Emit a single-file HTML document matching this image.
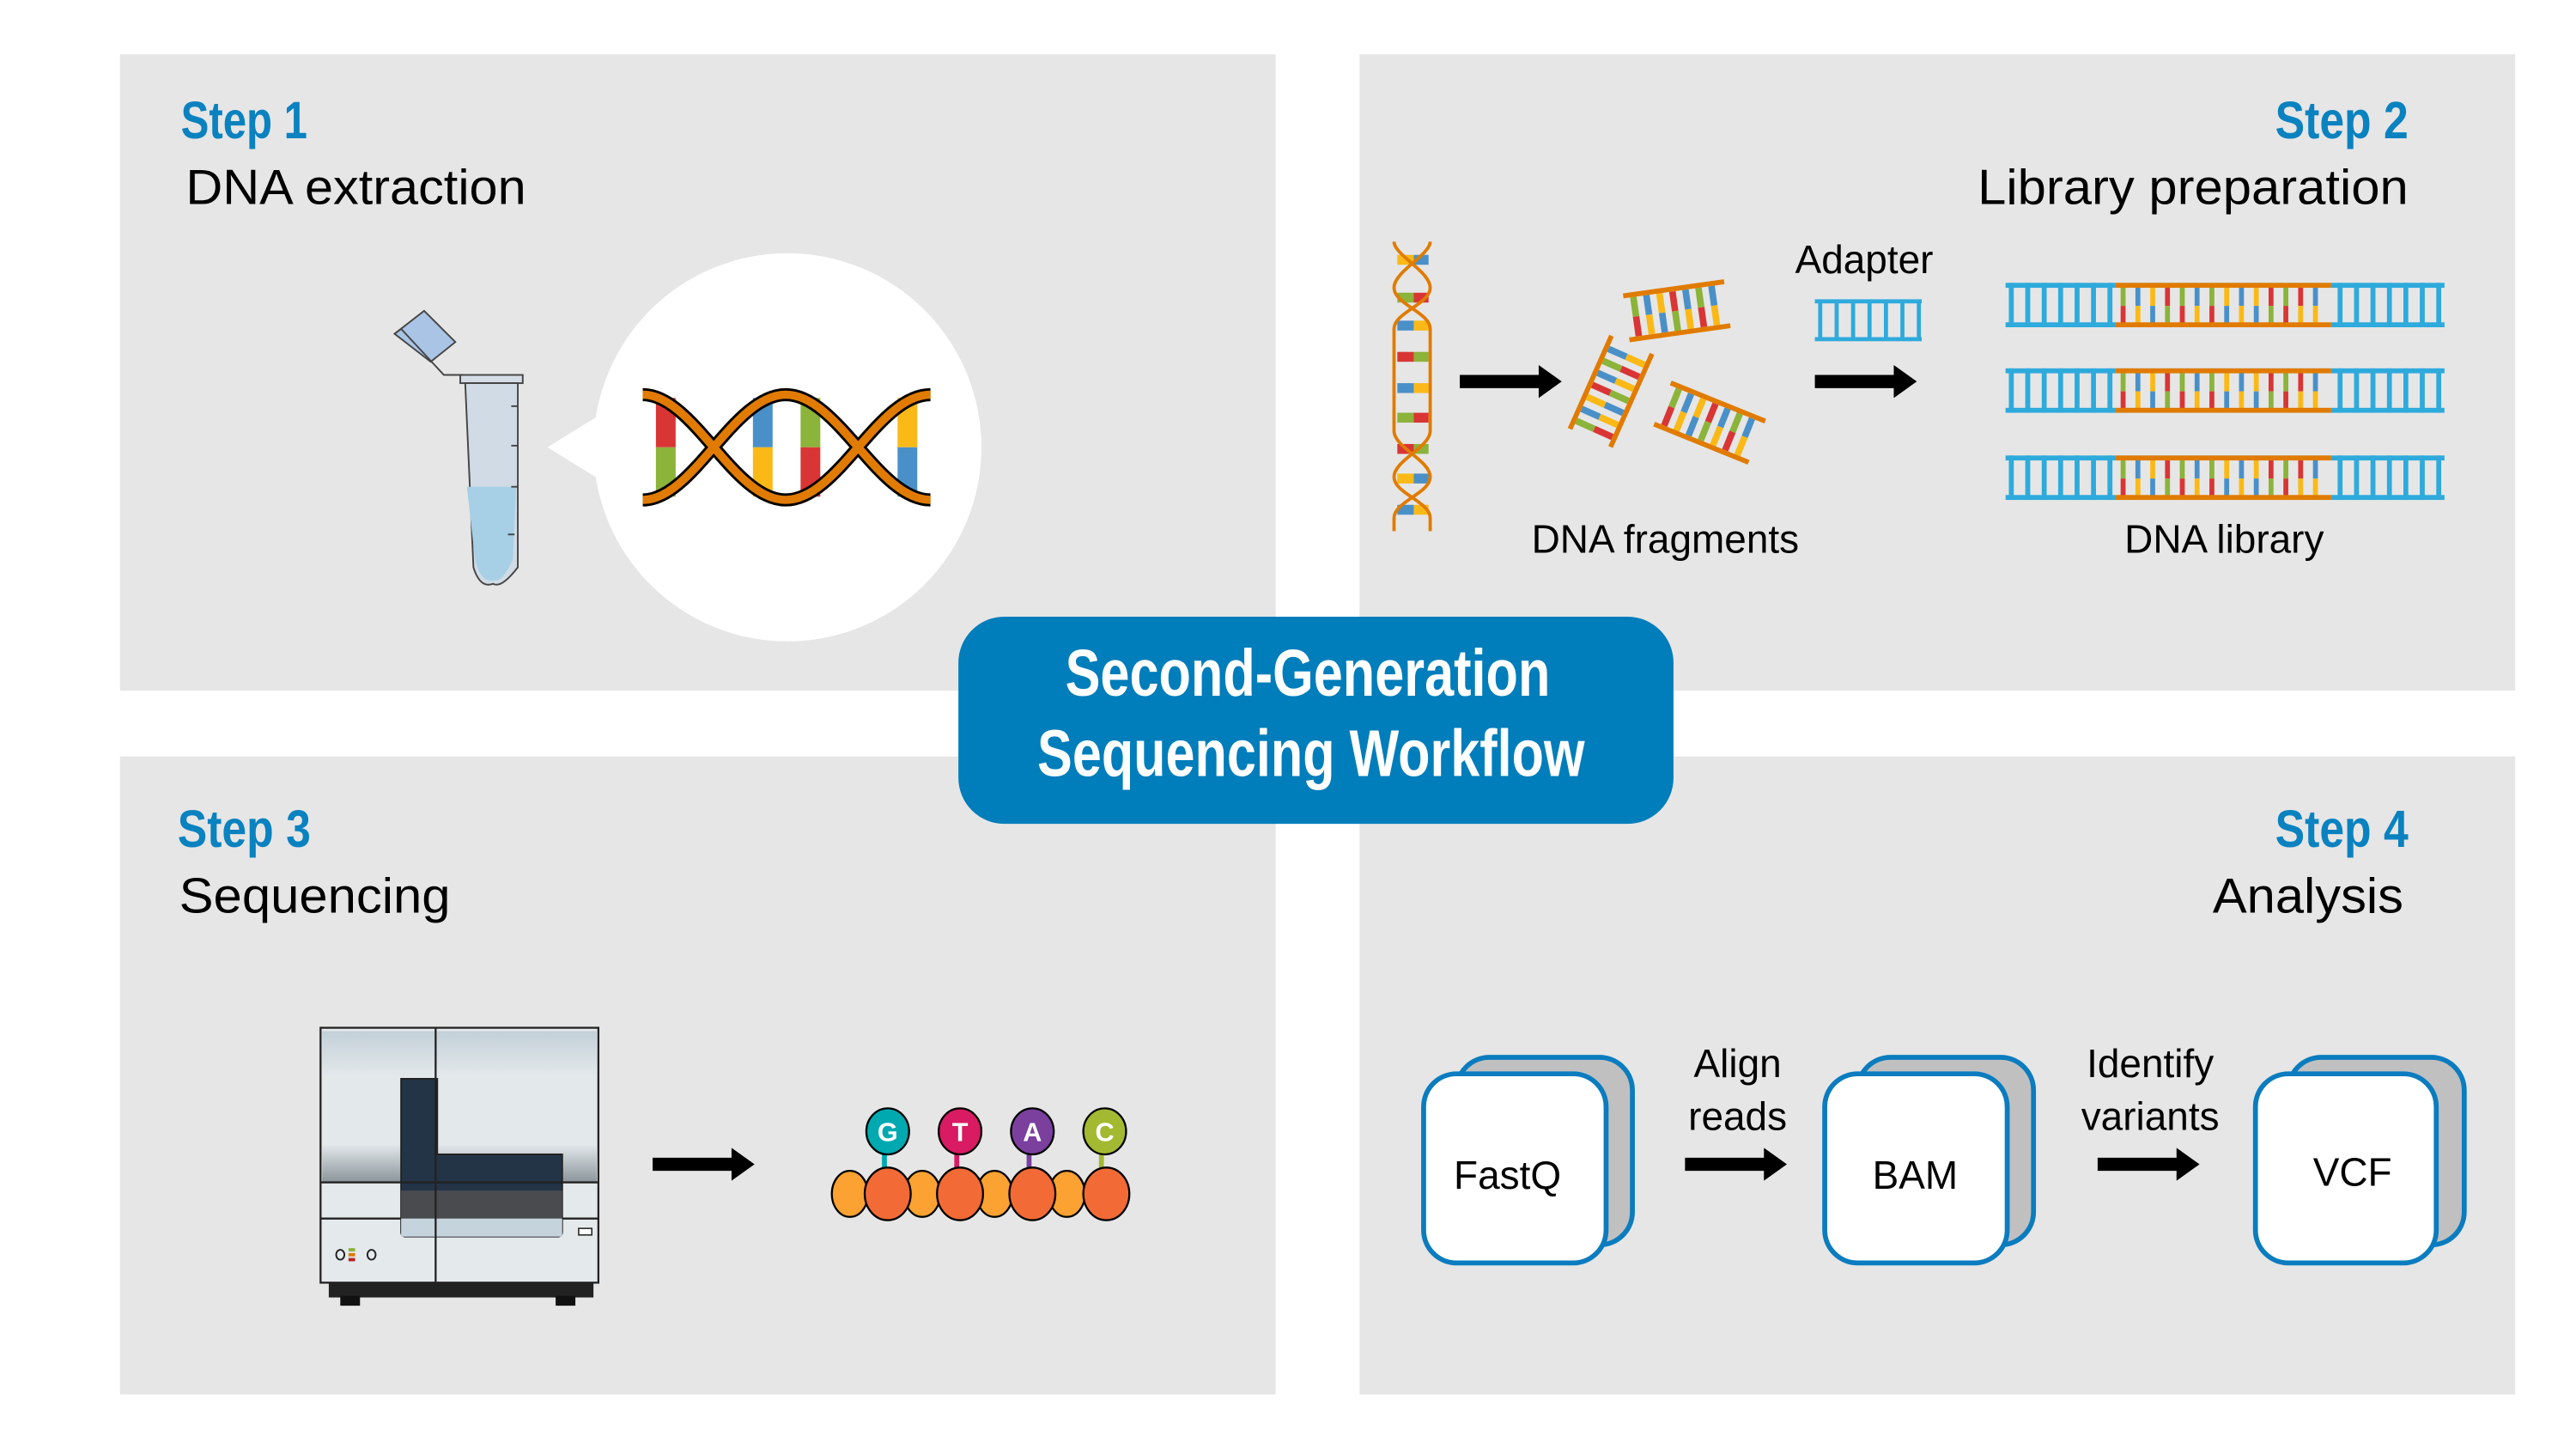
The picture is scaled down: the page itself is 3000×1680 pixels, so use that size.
<!DOCTYPE html>
<html><head><meta charset="utf-8"><style>
html,body{margin:0;padding:0;background:#fff;}
svg{display:block;}
.t{font-family:"Liberation Sans",sans-serif;fill:#000;}
.s{font-family:"Liberation Sans Narrow","Liberation Sans",sans-serif;font-weight:bold;fill:#0a82c0;}
</style></head><body>
<svg width="3000" height="1680" viewBox="0 0 1567 877.5" preserveAspectRatio="none" xmlns="http://www.w3.org/2000/svg">
<defs>
<g id="lad">
 <rect x="-27" y="-12" width="4" height="12" fill="#8cb33a"/><rect x="-27" y="0" width="4" height="12" fill="#d93535"/>
 <rect x="-19" y="-12" width="4" height="12" fill="#4a90c8"/><rect x="-19" y="0" width="4" height="12" fill="#fbb917"/>
 <rect x="-11" y="-12" width="4" height="12" fill="#fbb917"/><rect x="-11" y="0" width="4" height="12" fill="#4a90c8"/>
 <rect x="-3" y="-12" width="4" height="12" fill="#d93535"/><rect x="-3" y="0" width="4" height="12" fill="#8cb33a"/>
 <rect x="5" y="-12" width="4" height="12" fill="#4a90c8"/><rect x="5" y="0" width="4" height="12" fill="#fbb917"/>
 <rect x="13" y="-12" width="4" height="12" fill="#8cb33a"/><rect x="13" y="0" width="4" height="12" fill="#d93535"/>
 <rect x="21" y="-12" width="4" height="12" fill="#4a90c8"/><rect x="21" y="0" width="4" height="12" fill="#fbb917"/>
 <rect x="-31" y="-15" width="62" height="3" fill="#e07b00"/><rect x="-31" y="12" width="62" height="3" fill="#e07b00"/>
</g>
<g id="libstrand">
 <rect x="0" y="0" width="267" height="3" fill="#2eaadc"/>
 <rect x="0" y="24" width="267" height="3" fill="#2eaadc"/>
 <g fill="#2eaadc">
  <rect x="2" y="0" width="3" height="27"/><rect x="12" y="0" width="3" height="27"/><rect x="22" y="0" width="3" height="27"/><rect x="32" y="0" width="3" height="27"/><rect x="42" y="0" width="3" height="27"/><rect x="52" y="0" width="3" height="27"/><rect x="62" y="0" width="3" height="27"/>
  <rect x="202" y="0" width="3" height="27"/><rect x="212" y="0" width="3" height="27"/><rect x="222" y="0" width="3" height="27"/><rect x="232" y="0" width="3" height="27"/><rect x="242" y="0" width="3" height="27"/><rect x="252" y="0" width="3" height="27"/><rect x="262" y="0" width="3" height="27"/>
 </g>
 <rect x="67" y="0" width="131" height="27" fill="#e6e6e6"/>
 <g>
  <rect x="70" y="2" width="3" height="12" fill="#8cb33a"/><rect x="70" y="14" width="3" height="11" fill="#d93535"/>
  <rect x="79" y="2" width="3" height="12" fill="#4a90c8"/><rect x="79" y="14" width="3" height="11" fill="#fbb917"/>
  <rect x="88" y="2" width="3" height="12" fill="#fbb917"/><rect x="88" y="14" width="3" height="11" fill="#4a90c8"/>
  <rect x="97" y="2" width="3" height="12" fill="#d93535"/><rect x="97" y="14" width="3" height="11" fill="#8cb33a"/>
  <rect x="106" y="2" width="3" height="12" fill="#8cb33a"/><rect x="106" y="14" width="3" height="11" fill="#d93535"/>
  <rect x="115" y="2" width="3" height="12" fill="#4a90c8"/><rect x="115" y="14" width="3" height="11" fill="#fbb917"/>
  <rect x="124" y="2" width="3" height="12" fill="#8cb33a"/><rect x="124" y="14" width="3" height="11" fill="#d93535"/>
  <rect x="133" y="2" width="3" height="12" fill="#fbb917"/><rect x="133" y="14" width="3" height="11" fill="#4a90c8"/>
  <rect x="142" y="2" width="3" height="12" fill="#4a90c8"/><rect x="142" y="14" width="3" height="11" fill="#fbb917"/>
  <rect x="151" y="2" width="3" height="12" fill="#fbb917"/><rect x="151" y="14" width="3" height="11" fill="#4a90c8"/>
  <rect x="160" y="2" width="3" height="12" fill="#d93535"/><rect x="160" y="14" width="3" height="11" fill="#8cb33a"/>
  <rect x="169" y="2" width="3" height="12" fill="#8cb33a"/><rect x="169" y="14" width="3" height="11" fill="#d93535"/>
  <rect x="178" y="2" width="3" height="12" fill="#d93535"/><rect x="178" y="14" width="3" height="11" fill="#fbb917"/>
  <rect x="187" y="2" width="3" height="12" fill="#4a90c8"/><rect x="187" y="14" width="3" height="11" fill="#fbb917"/>
 </g>
 <rect x="67" y="0" width="131" height="3" fill="#e07b00"/>
 <rect x="67" y="24" width="131" height="3" fill="#e07b00"/>
</g>
<g id="arr"><path d="M0,-4 L48,-4 L48,-10 L62,0 L48,10 L48,4 L0,4 Z" fill="#000"/></g>
</defs>

<rect width="1567" height="877.5" fill="#fff"/>
<rect x="73" y="33" width="703" height="387" fill="#e6e6e6"/>
<rect x="827" y="33" width="703" height="387" fill="#e6e6e6"/>
<rect x="73" y="460" width="703" height="388" fill="#e6e6e6"/>
<rect x="827" y="460" width="703" height="388" fill="#e6e6e6"/>

<!-- Step 1 -->
<text class="s" x="110" y="84" font-size="32" textLength="77" lengthAdjust="spacingAndGlyphs">Step 1</text>
<text class="t" x="113" y="124" font-size="30" textLength="207" lengthAdjust="spacingAndGlyphs">DNA extraction</text>
<path d="M240,203 L258,189 L277,208 L262,220 Z" fill="#a9c4e4" stroke="#444" stroke-width="1"/>
<path d="M240,203 L244,200 L270,228 L282,228" fill="none" stroke="#444" stroke-width="1"/>
<rect x="280" y="228" width="38" height="5" fill="#d4dde6" stroke="#444" stroke-width="1"/>
<path d="M283,233 L315,233 L315,345 Q305,358 300,355 Q292,358 288,345 Z" fill="#d0dbe5" stroke="#444" stroke-width="1"/>
<path d="M284,296 L314,296 L312,340 Q306,354 300,353 Q292,354 289,340 Z" fill="#a7d0e6"/>
<g stroke="#444" stroke-width="1"><line x1="311" y1="247" x2="315" y2="247"/><line x1="311" y1="271" x2="315" y2="271"/><line x1="311" y1="296" x2="315" y2="296"/><line x1="309" y1="325" x2="313" y2="325"/></g>
<ellipse cx="479" cy="272" rx="118" ry="118" fill="#fff"/>
<path d="M333,272 L372,248 L372,296 Z" fill="#fff"/>
<g>
 <rect x="399" y="242" width="12" height="30" fill="#d93535"/><rect x="399" y="272" width="12" height="30" fill="#8cb33a"/>
 <rect x="458" y="242" width="12" height="30" fill="#4a90c8"/><rect x="458" y="272" width="12" height="30" fill="#fbb917"/>
 <rect x="487" y="242" width="12" height="30" fill="#8cb33a"/><rect x="487" y="272" width="12" height="30" fill="#d93535"/>
 <rect x="546" y="242" width="12" height="30" fill="#fbb917"/><rect x="546" y="272" width="12" height="30" fill="#4a90c8"/>
 <g fill="none" stroke="#000" stroke-width="8">
  <path d="M391,240 C422,240 446,304 478,304 S534,240 566,240"/>
  <path d="M391,304 C422,304 446,240 478,240 S534,304 566,304"/>
 </g>
 <g fill="none" stroke="#e07b00" stroke-width="5">
  <path d="M391,240 C422,240 446,304 478,304 S534,240 566,240"/>
  <path d="M391,304 C422,304 446,240 478,240 S534,304 566,304"/>
 </g>
</g>

<!-- Step 2 -->
<text class="s" x="1465" y="84" font-size="32" text-anchor="end" textLength="81" lengthAdjust="spacingAndGlyphs">Step 2</text>
<text class="t" x="1465" y="124" font-size="30" text-anchor="end" textLength="262" lengthAdjust="spacingAndGlyphs">Library preparation</text>
<g>
 <g>
  <rect x="850" y="155" width="10" height="6" fill="#fbb917"/><rect x="860" y="155" width="9" height="6" fill="#4a90c8"/>
  <rect x="850" y="178" width="10" height="6" fill="#8cb33a"/><rect x="860" y="178" width="9" height="6" fill="#d93535"/>
  <rect x="850" y="195" width="10" height="6" fill="#4a90c8"/><rect x="860" y="195" width="9" height="6" fill="#fbb917"/>
  <rect x="850" y="214" width="10" height="6" fill="#d93535"/><rect x="860" y="214" width="9" height="6" fill="#8cb33a"/>
  <rect x="850" y="233" width="10" height="6" fill="#4a90c8"/><rect x="860" y="233" width="9" height="6" fill="#fbb917"/>
  <rect x="850" y="251" width="10" height="6" fill="#8cb33a"/><rect x="860" y="251" width="9" height="6" fill="#d93535"/>
  <rect x="850" y="270" width="10" height="6" fill="#d93535"/><rect x="860" y="270" width="9" height="6" fill="#8cb33a"/>
  <rect x="850" y="288" width="10" height="6" fill="#fbb917"/><rect x="860" y="288" width="9" height="6" fill="#4a90c8"/>
  <rect x="850" y="307" width="10" height="6" fill="#4a90c8"/><rect x="860" y="307" width="9" height="6" fill="#fbb917"/>
 </g>
 <g fill="none" stroke="#e07b00" stroke-width="2">
  <path d="M848,147 C848,155 870,165 870,175 C870,185 848,190 848,200 L848,262 C848,272 870,280 870,290 C870,300 848,305 848,315 L848,323"/>
  <path d="M870,147 C870,155 848,165 848,175 C848,185 870,190 870,200 L870,262 C870,272 848,280 848,290 C848,300 870,305 870,315 L870,323"/>
 </g>
</g>
<use href="#arr" x="888" y="232"/>
<use href="#lad" transform="translate(1020,189) rotate(-8)"/>
<use href="#lad" transform="translate(980,238) rotate(-66)"/>
<use href="#lad" transform="translate(1040,257) rotate(22)"/>
<text class="t" x="1134" y="166" font-size="24" text-anchor="middle">Adapter</text>
<g fill="#2eaadc">
 <rect x="1104" y="182" width="65" height="2.5"/><rect x="1104" y="205" width="65" height="2.5"/>
 <rect x="1106" y="182" width="2.5" height="25"/><rect x="1116" y="182" width="2.5" height="25"/><rect x="1126" y="182" width="2.5" height="25"/><rect x="1136" y="182" width="2.5" height="25"/><rect x="1146" y="182" width="2.5" height="25"/><rect x="1156" y="182" width="2.5" height="25"/><rect x="1166" y="182" width="2.5" height="25"/>
</g>
<use href="#arr" x="1104" y="232"/>
<use href="#libstrand" x="1220" y="172"/>
<use href="#libstrand" x="1220" y="224"/>
<use href="#libstrand" x="1220" y="277"/>
<text class="t" x="1013" y="336" font-size="24" text-anchor="middle">DNA fragments</text>
<text class="t" x="1353" y="336" font-size="24" text-anchor="middle">DNA library</text>

<!-- Step 3 -->
<text class="s" x="108" y="515" font-size="32" textLength="81" lengthAdjust="spacingAndGlyphs">Step 3</text>
<text class="t" x="109" y="555" font-size="30" textLength="165" lengthAdjust="spacingAndGlyphs">Sequencing</text>
<defs><linearGradient id="mg" x1="0" y1="0" x2="0" y2="1"><stop offset="0" stop-color="#c3d0d8"/><stop offset="0.3" stop-color="#e3e8eb"/><stop offset="0.75" stop-color="#e3e8eb"/><stop offset="1" stop-color="#8a949a"/></linearGradient></defs>
<rect x="200" y="780" width="161" height="9" fill="#222"/>
<rect x="207" y="788" width="12" height="6" fill="#111"/><rect x="338" y="788" width="12" height="6" fill="#111"/>
<rect x="195" y="625" width="169" height="155" fill="#e4e9ec" stroke="#222" stroke-width="1.2"/>
<rect x="196" y="627" width="167" height="92" fill="url(#mg)"/>
<line x1="195" y1="741" x2="364" y2="741" stroke="#222" stroke-width="1.2"/>
<path d="M244,656 L266,656 L266,702 L342,702 L342,749 Q342,752 339,752 L247,752 Q244,752 244,749 Z" fill="#233447" stroke="#222" stroke-width="1"/>
<rect x="244" y="724" width="98" height="17" fill="#4a4b4f"/>
<rect x="244" y="741" width="98" height="11" fill="#c5d3dc"/>
<line x1="265" y1="625" x2="265" y2="780" stroke="#222" stroke-width="1.2"/>
<line x1="195" y1="719" x2="364" y2="719" stroke="#222" stroke-width="1.2"/>
<ellipse cx="207" cy="763" rx="2.5" ry="3" fill="none" stroke="#222"/>
<rect x="212" y="759" width="4" height="2" fill="#8cb33a"/><rect x="212" y="762" width="4" height="2" fill="#e07b00"/><rect x="212" y="765" width="4" height="2" fill="#b22"/>
<ellipse cx="226" cy="763" rx="2.5" ry="3" fill="none" stroke="#222"/>
<rect x="352" y="747" width="8" height="4" fill="#fff" stroke="#222" stroke-width="0.8"/>
<use href="#arr" x="397" y="708"/>
<g stroke="#000" stroke-width="1.2">
 <line x1="538" y1="695" x2="538" y2="715" stroke="#00a9b0" stroke-width="3"/>
 <line x1="582" y1="695" x2="582" y2="715" stroke="#d81b63" stroke-width="3"/>
 <line x1="626" y1="695" x2="626" y2="715" stroke="#7b3f9e" stroke-width="3"/>
 <line x1="670" y1="695" x2="670" y2="715" stroke="#a3b932" stroke-width="3"/>
 <ellipse cx="517" cy="726" rx="11" ry="14" fill="#fba232"/>
 <ellipse cx="561" cy="726" rx="11" ry="14" fill="#fba232"/>
 <ellipse cx="605" cy="726" rx="11" ry="14" fill="#fba232"/>
 <ellipse cx="649" cy="726" rx="11" ry="14" fill="#fba232"/>
 <ellipse cx="540" cy="726" rx="14" ry="16" fill="#f26a35"/>
 <ellipse cx="584" cy="726" rx="14" ry="16" fill="#f26a35"/>
 <ellipse cx="628" cy="726" rx="14" ry="16" fill="#f26a35"/>
 <ellipse cx="673" cy="726" rx="14" ry="16" fill="#f26a35"/>
 <ellipse cx="540" cy="688" rx="13" ry="14" fill="#00a9b0"/>
 <ellipse cx="584" cy="688" rx="13" ry="14" fill="#d81b63"/>
 <ellipse cx="628" cy="688" rx="13" ry="14" fill="#7b3f9e"/>
 <ellipse cx="672" cy="688" rx="13" ry="14" fill="#a3b932"/>
</g>
<g font-family="Liberation Sans, sans-serif" font-weight="bold" font-size="16" fill="#fff" text-anchor="middle">
 <text x="540" y="694">G</text><text x="584" y="694">T</text><text x="628" y="694">A</text><text x="672" y="694">C</text>
</g>

<!-- Step 4 -->
<text class="s" x="1465" y="515" font-size="32" text-anchor="end" textLength="81" lengthAdjust="spacingAndGlyphs">Step 4</text>
<text class="t" x="1462" y="555" font-size="30" text-anchor="end" textLength="116" lengthAdjust="spacingAndGlyphs">Analysis</text>
<g stroke="#0a7cbf" stroke-width="3">
 <rect x="886" y="643" width="107" height="114" rx="20" fill="#c0c0c0"/>
 <rect x="866" y="653" width="111" height="115" rx="20" fill="#fff"/>
 <rect x="1130" y="643" width="107" height="114" rx="20" fill="#c0c0c0"/>
 <rect x="1110" y="653" width="111" height="115" rx="20" fill="#fff"/>
 <rect x="1392" y="643" width="107" height="114" rx="20" fill="#c0c0c0"/>
 <rect x="1372" y="653" width="110" height="115" rx="20" fill="#fff"/>
</g>
<g font-size="24" text-anchor="middle">
 <text x="917" y="723" class="t">FastQ</text>
 <text x="1165" y="723" class="t">BAM</text>
 <text x="1431" y="721" class="t">VCF</text>
 <text x="1057" y="655" class="t">Align</text>
 <text x="1057" y="687" class="t">reads</text>
 <text x="1308" y="655" class="t">Identify</text>
 <text x="1308" y="687" class="t">variants</text>
</g>
<use href="#arr" x="1025" y="708"/>
<use href="#arr" x="1276" y="708"/>

<rect x="583" y="375" width="435" height="126" rx="28" fill="#007dbb"/>
<g font-family="Liberation Sans Narrow, Liberation Sans, sans-serif" font-weight="bold" font-size="40" fill="#fff">
 <text x="648" y="423" textLength="295" lengthAdjust="spacingAndGlyphs">Second-Generation</text>
 <text x="631" y="472" textLength="333" lengthAdjust="spacingAndGlyphs">Sequencing Workflow</text>
</g>
</svg>
</body></html>
